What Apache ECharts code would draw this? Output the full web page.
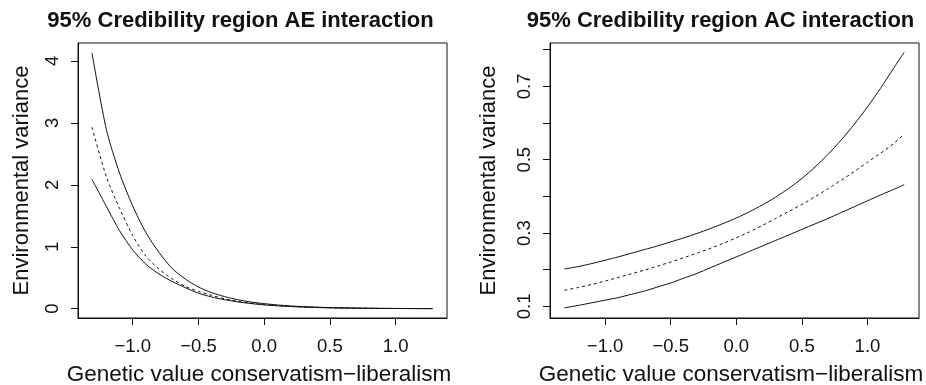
<!DOCTYPE html>
<html>
<head>
<meta charset="utf-8">
<script src="https://cdn.jsdelivr.net/npm/echarts@6/dist/echarts.min.js"></script>
<style>
  html, body { margin: 0; padding: 0; background: #fff; }
  #chart { width: 926px; height: 385px; }
</style>
</head>
<body>
<div id="chart"></div>
<script>
// Genetic value (conservatism-liberalism) grid shared by both panels
const geneticValue = [-1.31, -1.2, -1.1, -1.0, -0.9, -0.8, -0.7, -0.6, -0.5, -0.4, -0.3, -0.2, -0.1,
  0.0, 0.1, 0.2, 0.3, 0.4, 0.5, 0.6, 0.7, 0.8, 0.9, 1.0, 1.1, 1.2, 1.28];

// AE interaction: environmental variance, 95% credibility bounds and posterior mean
const aeUpper = [4.13, 2.89, 2.19, 1.66, 1.23, 0.91, 0.65, 0.48, 0.35, 0.26, 0.195, 0.145, 0.108,
  0.082, 0.061, 0.045, 0.034, 0.025, 0.018, 0.014, 0.010, 0.0075, 0.0055, 0.004, 0.003, 0.0023, 0.002];
const aeMean = [2.93, 2.13, 1.62, 1.18, 0.85, 0.64, 0.48, 0.36, 0.28, 0.215, 0.16, 0.12, 0.09,
  0.068, 0.051, 0.038, 0.029, 0.022, 0.016, 0.012, 0.009, 0.007, 0.005, 0.004, 0.003, 0.0022, 0.0018];
const aeLower = [2.09, 1.65, 1.26, 0.95, 0.72, 0.56, 0.44, 0.34, 0.25, 0.19, 0.145, 0.11, 0.083,
  0.062, 0.046, 0.035, 0.026, 0.019, 0.014, 0.011, 0.008, 0.006, 0.0045, 0.0033, 0.0025, 0.0019, 0.0015];

// AC interaction: environmental variance, 95% credibility bounds and posterior mean
const acUpper = [0.202, 0.209, 0.217, 0.226, 0.235, 0.245, 0.255, 0.265, 0.276, 0.287, 0.299, 0.312, 0.326,
  0.341, 0.358, 0.377, 0.398, 0.422, 0.449, 0.480, 0.515, 0.554, 0.597, 0.644, 0.695, 0.750, 0.793];
const acMean = [0.144, 0.152, 0.160, 0.169, 0.179, 0.189, 0.199, 0.210, 0.221, 0.233, 0.245, 0.258, 0.272,
  0.287, 0.303, 0.321, 0.340, 0.359, 0.378, 0.399, 0.421, 0.444, 0.468, 0.493, 0.518, 0.544, 0.570];
const acLower = [0.096, 0.103, 0.110, 0.117, 0.124, 0.133, 0.142, 0.153, 0.164, 0.177, 0.190, 0.205, 0.220,
  0.235, 0.250, 0.265, 0.280, 0.295, 0.310, 0.325, 0.340, 0.356, 0.372, 0.388, 0.404, 0.419, 0.432];

// Tick positions
const xTicks = [-1.0, -0.5, 0.0, 0.5, 1.0];
const aeYTicks = [0, 1, 2, 3, 4];
const acYTicks = [0.1, 0.2, 0.3, 0.4, 0.5, 0.6, 0.7, 0.8];
const acYLabels = [0.1, 0.3, 0.5, 0.7];

const panelTitles = ['95% Credibility region AE interaction', '95% Credibility region AC interaction'];
const xName = 'Genetic value conservatism\u2212liberalism';
const yName = 'Environmental variance';

const FONT = '"Liberation Sans", Arial, Helvetica, sans-serif';
const INK = '#111';
const TICK_SIZE = 18.5;
const NAME_SIZE = 22;

const pairs = ys => geneticValue.map((x, i) => [x, ys[i]]);
const minus = s => s.replace('-', '\u2212');

function xAxisFor(gridIndex, min, max) {
  return {
    type: 'value', gridIndex, min, max,
    name: xName, nameLocation: 'middle', nameGap: 45,
    nameTextStyle: { fontFamily: FONT, fontSize: 22.5, color: INK, padding: [0, 7, 0, 0] },
    axisLine: { show: true, onZero: false, lineStyle: { color: INK, width: 1 } },
    axisTick: { show: true, length: 7, customValues: xTicks, lineStyle: { color: INK, width: 1 } },
    axisLabel: {
      customValues: xTicks, margin: 19, fontFamily: FONT, fontSize: TICK_SIZE, color: INK,
      formatter: v => minus(v.toFixed(1))
    },
    splitLine: { show: false }
  };
}

function yAxisFor(gridIndex, min, max, ticks, labels, digits, gap) {
  return {
    type: 'value', gridIndex, min, max,
    name: yName, nameLocation: 'middle', nameGap: gap, nameRotate: 90,
    nameTextStyle: { fontFamily: FONT, fontSize: NAME_SIZE, color: INK },
    axisLine: { show: true, onZero: false, lineStyle: { color: INK, width: 1 } },
    axisTick: { show: true, length: 7, customValues: ticks, lineStyle: { color: INK, width: 1 } },
    axisLabel: {
      customValues: labels, rotate: 90, margin: 16, fontFamily: FONT, fontSize: TICK_SIZE, color: INK,
      formatter: v => v.toFixed(digits)
    },
    splitLine: { show: false }
  };
}

function curve(name, ys, idx, dashed) {
  return {
    name, type: 'line', xAxisIndex: idx, yAxisIndex: idx,
    data: pairs(ys), showSymbol: false, smooth: 0.25,
    lineStyle: { color: INK, width: 1, type: dashed ? [3, 3] : 'solid' },
    silent: true, animation: false, z: 3
  };
}

function titleText(text, x) {
  return {
    type: 'text', x, y: 21,
    style: {
      text, font: 'bold ' + NAME_SIZE + 'px ' + FONT, fill: INK,
      align: 'center', verticalAlign: 'middle', textAlign: 'center', textVerticalAlign: 'middle'
    }
  };
}

function panelGrid(left) {
  return {
    left, top: 43, width: 369, height: 275,
    show: true, borderColor: INK, borderWidth: 1,
    containLabel: false, outerBoundsMode: 'none'
  };
}

const chart = echarts.init(document.getElementById('chart'), null, { renderer: 'canvas' });
chart.setOption({
  backgroundColor: '#fff',
  animation: false,
  graphic: [titleText(panelTitles[0], 240.5), titleText(panelTitles[1], 720.5)],
  grid: [panelGrid(78), panelGrid(550)],
  xAxis: [xAxisFor(0, -1.416, 1.391), xAxisFor(1, -1.420, 1.393)],
  yAxis: [
    yAxisFor(0, -0.15, 4.29, aeYTicks, aeYTicks, 0, 45),
    yAxisFor(1, 0.0684, 0.8184, acYTicks, acYLabels, 1, 50)
  ],
  series: [
    curve('AE upper', aeUpper, 0, false),
    curve('AE mean', aeMean, 0, true),
    curve('AE lower', aeLower, 0, false),
    curve('AC upper', acUpper, 1, false),
    curve('AC mean', acMean, 1, true),
    curve('AC lower', acLower, 1, false)
  ]
});
</script>
</body>
</html>
